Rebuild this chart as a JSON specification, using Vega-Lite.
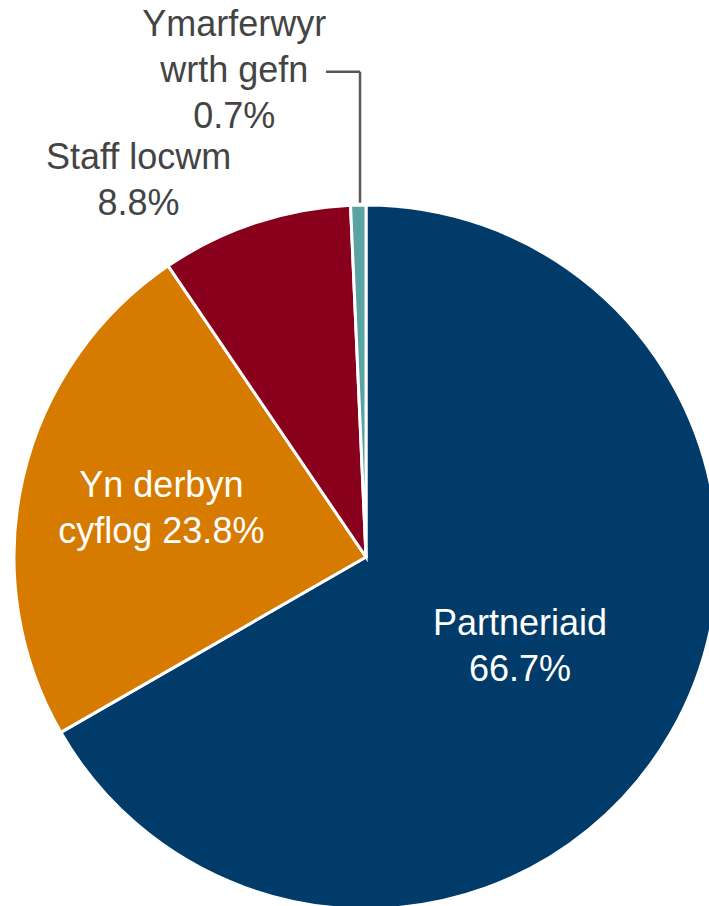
{
  "$schema": "https://vega.github.io/schema/vega-lite/v6.json",
  "autosize": {"type": "none"},
  "width": 686,
  "height": 698,
  "padding": {"left": 23, "top": 208, "right": 0, "bottom": 0},
  "background": "white",
  "config": {"view": {"stroke": null}, "font": "Liberation Sans"},
  "datasets": {
    "slices": [
      {"idx": 1, "cat": "Partneriaid", "value": 66.7, "label": "Partneriaid\n66.7%"},
      {"idx": 2, "cat": "Yn derbyn cyflog", "value": 23.8, "label": "Yn derbyn\ncyflog 23.8%"},
      {"idx": 3, "cat": "Staff locwm", "value": 8.8, "label": "Staff locwm\n8.8%"},
      {"idx": 4, "cat": "Ymarferwyr wrth gefn", "value": 0.7, "label": "Ymarferwyr\nwrth gefn\n0.7%"}
    ],
    "leader": [
      {"x": -0.1136, "x2": -0.017, "y": 1.378, "y2": 1.378},
      {"x": -0.017, "x2": -0.017, "y": 1.378, "y2": 1.006}
    ]
  },
  "layer": [
    {
      "data": {"name": "slices"},
      "mark": {"type": "arc", "outerRadius": 352, "stroke": "white", "strokeWidth": 3},
      "encoding": {
        "theta": {"field": "value", "type": "quantitative", "stack": true},
        "order": {"field": "idx", "type": "quantitative"},
        "color": {
          "field": "cat", "type": "nominal", "legend": null,
          "scale": {
            "domain": ["Partneriaid", "Yn derbyn cyflog", "Staff locwm", "Ymarferwyr wrth gefn"],
            "range": ["#003b69", "#d67a00", "#89001d", "#5aa3a3"]
          }
        }
      }
    },
    {
      "data": {"name": "slices"},
      "mark": {"type": "text", "radius": 178, "dy": -22, "fontSize": 36, "lineHeight": 46, "lineBreak": "\n", "color": "white", "align": "center", "baseline": "middle"},
      "encoding": {
        "theta": {"field": "value", "type": "quantitative", "stack": true},
        "order": {"field": "idx", "type": "quantitative"},
        "text": {"condition": {"test": "datum.cat === 'Partneriaid'", "field": "label"}, "value": ""}
      }
    },
    {
      "data": {"name": "slices"},
      "mark": {"type": "text", "radius": 210, "dy": -24, "fontSize": 36, "lineHeight": 46, "lineBreak": "\n", "color": "white", "align": "center", "baseline": "middle"},
      "encoding": {
        "theta": {"field": "value", "type": "quantitative", "stack": true},
        "order": {"field": "idx", "type": "quantitative"},
        "text": {"condition": {"test": "datum.cat === 'Yn derbyn cyflog'", "field": "label"}, "value": ""}
      }
    },
    {
      "data": {"name": "slices"},
      "mark": {"type": "text", "radius": 395, "dx": -103, "dy": -24, "fontSize": 36, "lineHeight": 46, "lineBreak": "\n", "color": "#444444", "align": "center", "baseline": "middle"},
      "encoding": {
        "theta": {"field": "value", "type": "quantitative", "stack": true},
        "order": {"field": "idx", "type": "quantitative"},
        "text": {"condition": {"test": "datum.cat === 'Staff locwm'", "field": "label"}, "value": ""}
      }
    },
    {
      "data": {"name": "slices"},
      "mark": {"type": "text", "radius": 486, "dx": -121, "dy": -46, "fontSize": 36, "lineHeight": 46, "lineBreak": "\n", "color": "#444444", "align": "center", "baseline": "middle"},
      "encoding": {
        "theta": {"field": "value", "type": "quantitative", "stack": true},
        "order": {"field": "idx", "type": "quantitative"},
        "text": {"condition": {"test": "datum.cat === 'Ymarferwyr wrth gefn'", "field": "label"}, "value": ""}
      }
    },
    {
      "data": {"name": "leader"},
      "mark": {"type": "rule", "color": "#595959", "strokeWidth": 2.5},
      "encoding": {
        "x": {"field": "x", "type": "quantitative", "axis": null, "scale": {"domain": [-0.974, 0.974], "nice": false, "zero": false}},
        "x2": {"field": "x2"},
        "y": {"field": "y", "type": "quantitative", "axis": null, "scale": {"domain": [-0.991, 0.991], "nice": false, "zero": false}},
        "y2": {"field": "y2"}
      }
    }
  ]
}
